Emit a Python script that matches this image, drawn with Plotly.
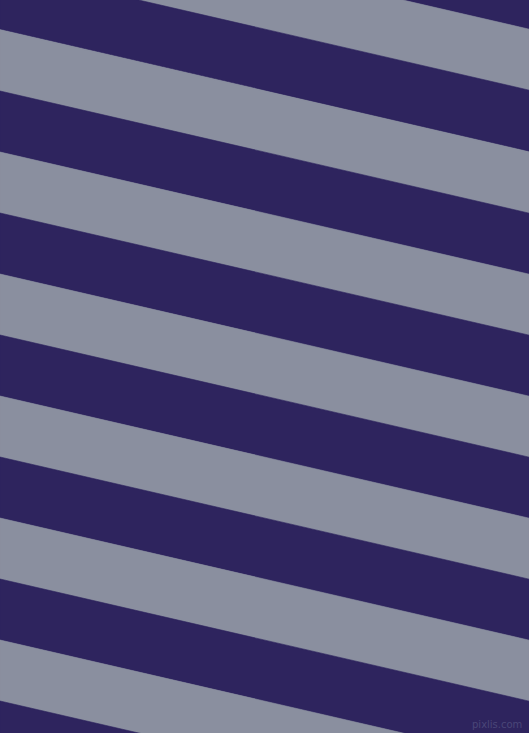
import math

import plotly.graph_objects as go

# stripe boundaries read at the left edge (y, px from top) and their colours
stripe_left_top = [-154, -93, -32, 30, 91, 152, 213, 274, 335, 396, 457, 518, 579, 640, 701]
stripe_colors = ["navy", "gray", "navy", "gray", "navy", "gray", "navy", "gray",
                 "navy", "gray", "navy", "gray", "navy", "gray", "navy"]
palette = {"navy": "#2E245E", "gray": "#8A8F9F"}

W, H = 529, 733
band = 61
slope = math.tan(math.radians(13))

fig = go.Figure()
for top, col in zip(stripe_left_top, stripe_colors):
    fig.add_trace(
        go.Scatter(
            x=[0, W, W, 0, 0],
            y=[top, top + slope * W, top + band + slope * W, top + band, top],
            mode="lines",
            fill="toself",
            fillcolor=palette[col],
            line=dict(width=0.6, color=palette[col]),
            hoverinfo="skip",
            showlegend=False,
        )
    )

fig.add_annotation(
    x=524, y=724, xref="x", yref="y", text="pixlis.com", showarrow=False,
    xanchor="right", yanchor="middle",
    font=dict(family="DejaVu Sans", size=10, color="#4A4678"),
)

fig.update_xaxes(range=[0, W], visible=False, fixedrange=True)
fig.update_yaxes(range=[H, 0], visible=False, fixedrange=True)
fig.update_layout(
    width=W, height=H,
    margin=dict(l=0, r=0, t=0, b=0),
    paper_bgcolor=palette["gray"],
    plot_bgcolor=palette["gray"],
)

fig.write_html("out.html", config={"displayModeBar": False},
               post_script="document.body.style.margin='0';")
